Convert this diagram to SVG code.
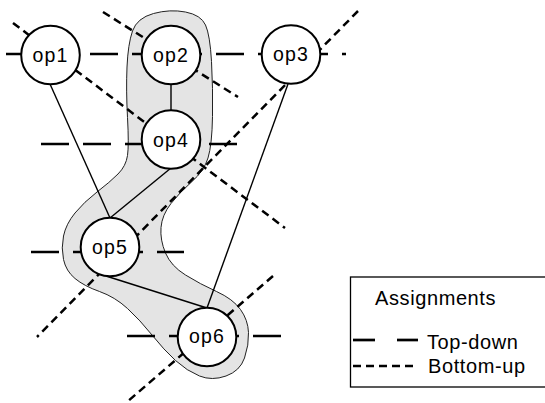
<svg xmlns="http://www.w3.org/2000/svg" width="545" height="403" viewBox="0 0 545 403">
<style>
.node circle{fill:#fff;stroke:#000;stroke-width:2}
.node text{font-family:"Liberation Sans",Arial,sans-serif;font-size:19.5px;letter-spacing:1.2px;text-anchor:middle;fill:#000}
.td{stroke:#000;stroke-width:2.7;fill:none;stroke-dasharray:28 14}
.bu{stroke:#000;stroke-width:2.5;fill:none;stroke-dasharray:8 5}
.edge{stroke:#000;stroke-width:1.4;fill:none}
.leg{font-family:"Liberation Sans",Arial,sans-serif;font-size:20px;letter-spacing:0.6px;fill:#000}
</style>
<rect width="545" height="403" fill="#fff"/>
<path id="cluster" d="M153.5,13.5 Q170,9 185.5,12 Q201,15 205.5,25 Q210,35 211.5,61.5 Q213,88 212.5,116.5 Q212,145 208,158 Q204,171 192,181.5 Q180,192 171,203.5 Q162,215 161,227.5 Q160,240 165.5,253 Q171,266 185.5,275 Q200,284 216.5,291.5 Q233,299 240.5,309.5 Q248,320 248.5,332.5 Q249,345 244.5,358 Q240,371 226,376 Q212,381 199.5,376 Q187,371 175.5,360.5 Q164,350 152,335 Q140,320 127.5,308.5 Q115,297 99.5,291.5 Q84,286 75,278.5 Q66,271 63.5,259.5 Q61,248 63.5,236 Q66,224 75,213 Q84,202 97,192 Q110,182 118,174 Q126,166 127.5,155.5 Q129,145 127.5,117.5 Q126,90 127,67 Q128,44 132.5,31 Q137,18 153.5,13.5 Z" fill="#e4e4e4" stroke="#222" stroke-width="1"/>
<g id="connectors">
<line class="td" x1="6" y1="54" x2="346" y2="54"/>
<line class="td" x1="41" y1="144" x2="237" y2="144"/>
<line class="td" x1="31" y1="252" x2="184" y2="252"/>
<line class="td" x1="127" y1="336" x2="281" y2="336"/>
<line class="bu" x1="13" y1="23" x2="285" y2="228"/>
<line class="bu" x1="103" y1="12" x2="238" y2="97"/>
<line class="bu" x1="358" y1="11" x2="37" y2="337"/>
<line class="bu" x1="273" y1="276" x2="127" y2="402"/>
<line class="edge" x1="50" y1="84" x2="110" y2="218"/>
<line class="edge" x1="171" y1="84" x2="171" y2="111"/>
<line class="edge" x1="171" y1="168" x2="110" y2="218"/>
<line class="edge" x1="288" y1="84" x2="207" y2="308"/>
<line class="edge" x1="106" y1="276" x2="207" y2="308"/>
</g>
<g id="op1" class="node"><circle cx="50.5" cy="55" r="29.3"/><text x="50.5" y="61.5">op1</text></g>
<g id="op2" class="node"><circle cx="171" cy="55" r="29.3"/><text x="171" y="61.5">op2</text></g>
<g id="op3" class="node"><circle cx="291" cy="54.5" r="29.3"/><text x="291" y="61">op3</text></g>
<g id="op4" class="node"><circle cx="171" cy="139.5" r="29.3"/><text x="171" y="147">op4</text></g>
<g id="op5" class="node"><circle cx="110" cy="247" r="29.3"/><text x="110" y="253.5">op5</text></g>
<g id="op6" class="node"><circle cx="207" cy="337" r="29.3"/><text x="207" y="343">op6</text></g>
<g id="legend">
<rect x="350.5" y="277" width="200" height="110" fill="none" stroke="#000" stroke-width="1.3"/>
<text class="leg" x="375" y="305">Assignments</text>
<line x1="353" y1="340" x2="375" y2="340" stroke="#000" stroke-width="2.7"/>
<line x1="397" y1="340" x2="418" y2="340" stroke="#000" stroke-width="2.7"/>
<text class="leg" x="427" y="349">Top-down</text>
<line class="bu" x1="353" y1="366" x2="415" y2="366"/>
<text class="leg" x="428" y="373">Bottom-up</text>
</g>
</svg>
